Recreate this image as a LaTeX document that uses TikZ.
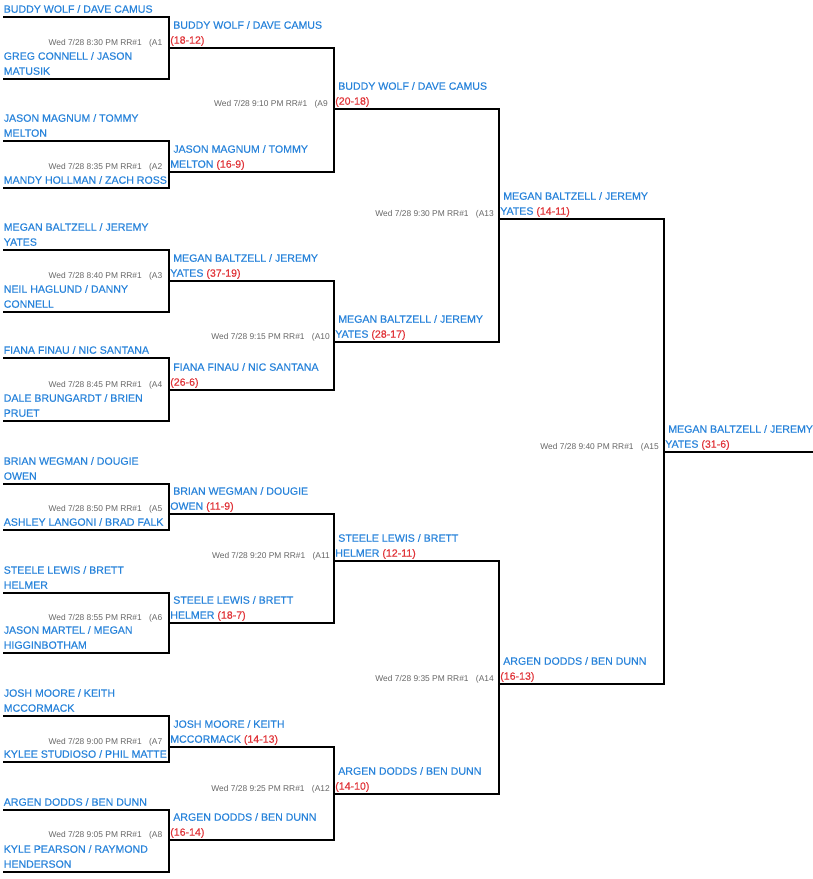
\documentclass[tikz,border=0pt]{standalone}
\usepackage{fontspec}
\setmainfont{Liberation Sans}
\newfontfamily\namefnt[FakeBold=0.35]{Liberation Sans}
\definecolor{nmblue}{HTML}{2883DA}
\definecolor{scorered}{HTML}{E0353A}
\definecolor{infogray}{HTML}{666666}
\newcommand{\lnst}{\rule[-3pt]{0pt}{10pt}}
\newcommand{\scorerd}[1]{\textcolor{scorered}{#1}}
\newcommand{\winind}{\hspace*{2.25pt}}
\tikzset{
  brk/.style={line width=1.5pt, line join=miter, draw=black},
  nm/.style={font=\namefnt\fontsize{7.95}{11.25}\selectfont, text=nmblue, anchor=south west, inner sep=0pt, align=left, yshift=-0.75pt},
  info/.style={font=\fontsize{6.3}{7}\selectfont, text=infogray, anchor=base east, inner sep=0pt},
}
\begin{document}
\begin{tikzpicture}[x=0.75pt,y=-0.75pt]
\useasboundingbox (0,0) rectangle (813,879);
% ---------- coordinates ----------
\coordinate (A1s) at (3,17);  \coordinate (A1t) at (169,17);  \coordinate (A1b) at (169,79);  \coordinate (A1e) at (3,79);  \coordinate (A1o) at (169,48);
\coordinate (A2s) at (3,141); \coordinate (A2t) at (169,141); \coordinate (A2b) at (169,188); \coordinate (A2e) at (3,188); \coordinate (A2o) at (169,172);
\coordinate (A3s) at (3,250); \coordinate (A3t) at (169,250); \coordinate (A3b) at (169,312); \coordinate (A3e) at (3,312); \coordinate (A3o) at (169,281);
\coordinate (A4s) at (3,358); \coordinate (A4t) at (169,358); \coordinate (A4b) at (169,421); \coordinate (A4e) at (3,421); \coordinate (A4o) at (169,390);
\coordinate (A5s) at (3,484); \coordinate (A5t) at (169,484); \coordinate (A5b) at (169,530); \coordinate (A5e) at (3,530); \coordinate (A5o) at (169,514);
\coordinate (A6s) at (3,593); \coordinate (A6t) at (169,593); \coordinate (A6b) at (169,653); \coordinate (A6e) at (3,653); \coordinate (A6o) at (169,623);
\coordinate (A7s) at (3,716); \coordinate (A7t) at (169,716); \coordinate (A7b) at (169,762); \coordinate (A7e) at (3,762); \coordinate (A7o) at (169,747);
\coordinate (A8s) at (3,810); \coordinate (A8t) at (169,810); \coordinate (A8b) at (169,872); \coordinate (A8e) at (3,872); \coordinate (A8o) at (169,840);
\coordinate (A9t) at (334,48);   \coordinate (A9b) at (334,172);  \coordinate (A9o) at (334,109);
\coordinate (A10t) at (334,281); \coordinate (A10b) at (334,390); \coordinate (A10o) at (334,342);
\coordinate (A11t) at (334,514); \coordinate (A11b) at (334,623); \coordinate (A11o) at (334,561);
\coordinate (A12t) at (334,747); \coordinate (A12b) at (334,840); \coordinate (A12o) at (334,794);
\coordinate (A13t) at (499,109); \coordinate (A13b) at (499,342); \coordinate (A13o) at (499,219);
\coordinate (A14t) at (499,561); \coordinate (A14b) at (499,794); \coordinate (A14o) at (499,684);
\coordinate (A15t) at (664,219); \coordinate (A15b) at (664,684); \coordinate (A15o) at (664,452);
\coordinate (A15e) at (813,452);
% ---------- bracket lines ----------
\foreach \g in {A1,A2,A3,A4,A5,A6,A7,A8}{
  \draw[brk] (\g s) -- (\g t) -- (\g b) -- (\g e);
}
\draw[brk] (A1o) -- (A9t) -- (A9b) -- (A2o);
\draw[brk] (A3o) -- (A10t) -- (A10b) -- (A4o);
\draw[brk] (A5o) -- (A11t) -- (A11b) -- (A6o);
\draw[brk] (A7o) -- (A12t) -- (A12b) -- (A8o);
\draw[brk] (A9o) -- (A13t) -- (A13b) -- (A10o);
\draw[brk] (A11o) -- (A14t) -- (A14b) -- (A12o);
\draw[brk] (A13o) -- (A15t) -- (A15b) -- (A14o);
\draw[brk] (A15o) -- (A15e);
% ---------- round 1 entrants ----------
\node[nm] (n1a) at (3.5,16)  {\lnst BUDDY WOLF / DAVE CAMUS};
\node[nm] (n1b) at (3.5,78)  {\lnst GREG CONNELL / JASON\\\lnst MATUSIK};
\node[nm] (n2a) at (3.5,140) {\lnst JASON MAGNUM / TOMMY\\\lnst MELTON};
\node[nm] (n2b) at (3.5,187) {\lnst MANDY HOLLMAN / ZACH ROSS};
\node[nm] (n3a) at (3.5,249) {\lnst MEGAN BALTZELL / JEREMY\\\lnst YATES};
\node[nm] (n3b) at (3.5,311) {\lnst NEIL HAGLUND / DANNY\\\lnst CONNELL};
\node[nm] (n4a) at (3.5,357) {\lnst FIANA FINAU / NIC SANTANA};
\node[nm] (n4b) at (3.5,420) {\lnst DALE BRUNGARDT / BRIEN\\\lnst PRUET};
\node[nm] (n5a) at (3.5,483) {\lnst BRIAN WEGMAN / DOUGIE\\\lnst OWEN};
\node[nm] (n5b) at (3.5,529) {\lnst ASHLEY LANGONI / BRAD FALK};
\node[nm] (n6a) at (3.5,592) {\lnst STEELE LEWIS / BRETT\\\lnst HELMER};
\node[nm] (n6b) at (3.5,652) {\lnst JASON MARTEL / MEGAN\\\lnst HIGGINBOTHAM};
\node[nm] (n7a) at (3.5,715) {\lnst JOSH MOORE / KEITH\\\lnst MCCORMACK};
\node[nm] (n7b) at (3.5,761) {\lnst KYLEE STUDIOSO / PHIL MATTE};
\node[nm] (n8a) at (3.5,809) {\lnst ARGEN DODDS / BEN DUNN};
\node[nm] (n8b) at (3.5,871) {\lnst KYLE PEARSON / RAYMOND\\\lnst HENDERSON};
% ---------- winners ----------
\node[nm] (w1) at (170,47)  {\lnst\winind BUDDY WOLF / DAVE CAMUS\\\lnst\scorerd{(18-12)}};
\node[nm] (w2) at (170,171) {\lnst\winind JASON MAGNUM / TOMMY\\\lnst MELTON \scorerd{(16-9)}};
\node[nm] (w3) at (170,280) {\lnst\winind MEGAN BALTZELL / JEREMY\\\lnst YATES \scorerd{(37-19)}};
\node[nm] (w4) at (170,389) {\lnst\winind FIANA FINAU / NIC SANTANA\\\lnst\scorerd{(26-6)}};
\node[nm] (w5) at (170,513) {\lnst\winind BRIAN WEGMAN / DOUGIE\\\lnst OWEN \scorerd{(11-9)}};
\node[nm] (w6) at (170,622) {\lnst\winind STEELE LEWIS / BRETT\\\lnst HELMER \scorerd{(18-7)}};
\node[nm] (w7) at (170,746) {\lnst\winind JOSH MOORE / KEITH\\\lnst MCCORMACK \scorerd{(14-13)}};
\node[nm] (w8) at (170,839) {\lnst\winind ARGEN DODDS / BEN DUNN\\\lnst\scorerd{(16-14)}};
\node[nm] (w9)  at (335,108) {\lnst\winind BUDDY WOLF / DAVE CAMUS\\\lnst\scorerd{(20-18)}};
\node[nm] (w10) at (335,341) {\lnst\winind MEGAN BALTZELL / JEREMY\\\lnst YATES \scorerd{(28-17)}};
\node[nm] (w11) at (335,560) {\lnst\winind STEELE LEWIS / BRETT\\\lnst HELMER \scorerd{(12-11)}};
\node[nm] (w12) at (335,793) {\lnst\winind ARGEN DODDS / BEN DUNN\\\lnst\scorerd{(14-10)}};
\node[nm] (w13) at (500,218) {\lnst\winind MEGAN BALTZELL / JEREMY\\\lnst YATES \scorerd{(14-11)}};
\node[nm] (w14) at (500,683) {\lnst\winind ARGEN DODDS / BEN DUNN\\\lnst\scorerd{(16-13)}};
\node[nm] (w15) at (665,451) {\lnst\winind MEGAN BALTZELL / JEREMY\\\lnst YATES \scorerd{(31-6)}};
% ---------- game info ----------
\node[info] (i1)  at (162.5,45)  {Wed 7/28 8:30 PM RR\#1\hspace{5.5pt}(A1};
\node[info] (i2)  at (162.5,169) {Wed 7/28 8:35 PM RR\#1\hspace{5.5pt}(A2};
\node[info] (i3)  at (162.5,278) {Wed 7/28 8:40 PM RR\#1\hspace{5.5pt}(A3};
\node[info] (i4)  at (162.5,387) {Wed 7/28 8:45 PM RR\#1\hspace{5.5pt}(A4};
\node[info] (i5)  at (162.5,511) {Wed 7/28 8:50 PM RR\#1\hspace{5.5pt}(A5};
\node[info] (i6)  at (162.5,620) {Wed 7/28 8:55 PM RR\#1\hspace{5.5pt}(A6};
\node[info] (i7)  at (162.5,744) {Wed 7/28 9:00 PM RR\#1\hspace{5.5pt}(A7};
\node[info] (i8)  at (162.5,837) {Wed 7/28 9:05 PM RR\#1\hspace{5.5pt}(A8};
\node[info] (i9)  at (328,106) {Wed 7/28 9:10 PM RR\#1\hspace{5.5pt}(A9};
\node[info] (i10) at (330,339) {Wed 7/28 9:15 PM RR\#1\hspace{5.5pt}(A10};
\node[info] (i11) at (330,558) {Wed 7/28 9:20 PM RR\#1\hspace{5.5pt}(A11};
\node[info] (i12) at (330,791) {Wed 7/28 9:25 PM RR\#1\hspace{5.5pt}(A12};
\node[info] (i13) at (494,216) {Wed 7/28 9:30 PM RR\#1\hspace{5.5pt}(A13};
\node[info] (i14) at (494,681) {Wed 7/28 9:35 PM RR\#1\hspace{5.5pt}(A14};
\node[info] (i15) at (659,449) {Wed 7/28 9:40 PM RR\#1\hspace{5.5pt}(A15};
\end{tikzpicture}
\end{document}
